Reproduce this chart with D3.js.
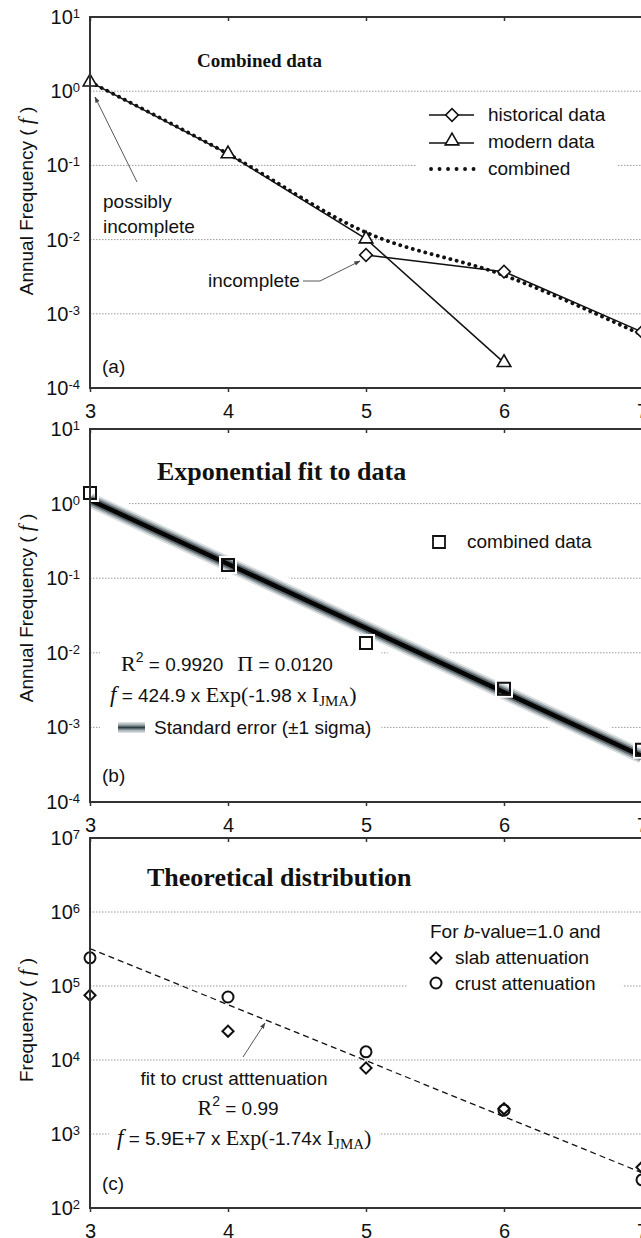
<!DOCTYPE html>
<html>
<head>
<meta charset="utf-8">
<script src="https://cdn.jsdelivr.net/npm/d3@7"></script>
<style>
  body { margin: 0; background: #fff; }
  svg { display: block; font-family: "Liberation Sans", Arial, sans-serif; }
</style>
</head>
<body>
<svg id="chart" width="641" height="1238"></svg>
<script>
// magnitude axis (I_JMA) shared by the three panels
const magnitudes = [3, 4, 5, 6, 7];
const xTickValues = [3, 4, 5, 6, 7];
const decadesAB = [-4, -3, -2, -1, 0, 1];
const decadesC = [2, 3, 4, 5, 6, 7];

// (a) combined data
const modernX = [3, 4, 5, 6];
const modernF = [1.33, 0.143, 0.0102, 0.00022];
const historicalX = [5, 6, 7];
const historicalF = [0.0062, 0.0037, 0.00057];
const combinedF = [1.33, 0.143, 0.0125, 0.0033, 0.00052];

// (b) exponential fit
const pointsB = [1.39, 0.150, 0.0135, 0.0033, 0.00050];
const fitBX = [3, 7];
const fitBF = [1.12, 0.00041];

// (c) theoretical distribution
const crustF = [2.4e5, 7.1e4, 1.29e4, 2.1e3, 240];
const slabF = [7.5e4, 2.45e4, 7.8e3, 2.2e3, 355];
const fitCX = [3, 7];
const fitCF = [3.2e5, 300];

const SERIF = "'Liberation Serif', 'Times New Roman', serif";
const svg = d3.select('#chart');
const defs = svg.append('defs');

defs.append('marker')
  .attr('id', 'arrow')
  .attr('viewBox', '0 0 10 10')
  .attr('refX', 9).attr('refY', 5)
  .attr('markerWidth', 7).attr('markerHeight', 7)
  .attr('orient', 'auto')
  .append('path')
  .attr('d', 'M0,1.5 L10,5 L0,8.5 Z')
  .attr('fill', '#444');

const bandGrad = defs.append('linearGradient')
  .attr('id', 'bandGrad')
  .attr('x1', 0).attr('y1', 0).attr('x2', 0).attr('y2', 1);
[['0%', '#e4e8ea'], ['25%', '#a4aeb3'], ['50%', '#2f3d44'], ['75%', '#a4aeb3'], ['100%', '#e4e8ea']]
  .forEach(([o, c]) => bandGrad.append('stop').attr('offset', o).attr('stop-color', c));

const x = d3.scaleLinear().domain([3, 7]).range([90, 642]);

function rich(parent, px, py, parts, anchor) {
  const t = parent.append('text')
    .attr('x', px).attr('y', py)
    .attr('text-anchor', anchor || 'start')
    .attr('font-size', 19)
    .attr('fill', '#111');
  parts.forEach(p => {
    const s = t.append('tspan').text(p.t);
    if (p.f) s.attr('font-family', p.f);
    if (p.s) s.attr('font-size', p.s);
    if (p.i) s.attr('font-style', 'italic');
    if (p.w) s.attr('font-weight', p.w);
    if (p.dy) s.attr('dy', p.dy);
    if (p.dx) s.attr('dx', p.dx);
  });
  return t;
}

function backdrop(layer, node, padX, padY) {
  const b = node.getBBox();
  layer.append('rect')
    .attr('x', b.x - padX).attr('y', b.y - padY)
    .attr('width', b.width + 2 * padX).attr('height', b.height + 2 * padY)
    .attr('fill', '#fff');
}

function panel(id, top, bottom, exps, axisLabel, labelCenter) {
  const y = d3.scaleLog()
    .domain([Math.pow(10, exps[0]), Math.pow(10, exps[exps.length - 1])])
    .range([bottom, top]);

  const grid = svg.append('g');
  const back = svg.append('g');
  const clipId = 'clip-' + id;
  defs.append('clipPath').attr('id', clipId)
    .append('rect').attr('x', 90).attr('y', top).attr('width', 560).attr('height', bottom - top);
  const lines = svg.append('g').attr('clip-path', `url(#${clipId})`);
  const marks = svg.append('g');
  const frame = svg.append('g');
  const text = svg.append('g');

  grid.selectAll('line')
    .data(exps.slice(1, -1))
    .enter().append('line')
    .attr('x1', 90).attr('x2', 641)
    .attr('y1', d => y(Math.pow(10, d)))
    .attr('y2', d => y(Math.pow(10, d)))
    .attr('stroke', '#9a9a9a')
    .attr('stroke-width', 1)
    .attr('stroke-dasharray', '1.5 1.5');

  frame.append('rect')
    .attr('x', 90).attr('y', top)
    .attr('width', x(7) - 90).attr('height', bottom - top)
    .attr('fill', 'none')
    .attr('stroke', '#333')
    .attr('stroke-width', 2);

  const bottomAxis = frame.append('g')
    .attr('transform', `translate(0,${bottom})`)
    .call(d3.axisBottom(x).tickValues(xTickValues).tickSizeInner(4).tickSizeOuter(0).tickPadding(12).tickFormat(d3.format('d')));
  bottomAxis.select('.domain').remove();
  bottomAxis.selectAll('line').attr('stroke', '#333').attr('stroke-width', 1.5);
  bottomAxis.selectAll('text')
    .attr('font-size', 20)
    .attr('font-family', '"Liberation Sans", Arial, sans-serif')
    .attr('fill', '#111');

  const topAxis = frame.append('g')
    .attr('transform', `translate(0,${top})`)
    .call(d3.axisTop(x).tickValues(xTickValues).tickSizeInner(-4).tickSizeOuter(0).tickFormat(''));
  topAxis.select('.domain').remove();
  topAxis.selectAll('line').attr('stroke', '#333').attr('stroke-width', 1.5);

  const leftAxis = frame.append('g')
    .attr('transform', 'translate(90,0)')
    .call(d3.axisLeft(y).tickValues(exps.map(e => Math.pow(10, e))).tickSize(0).tickPadding(10));
  leftAxis.select('.domain').remove();
  leftAxis.selectAll('text')
    .attr('font-size', 20)
    .attr('font-family', '"Liberation Sans", Arial, sans-serif')
    .attr('fill', '#111')
    .each(function (d) {
      const t = d3.select(this);
      t.text('');
      t.append('tspan').text('10');
      t.append('tspan').attr('dy', '-0.45em').attr('font-size', 13).text(Math.round(Math.log10(d)));
    });

  rich(text, 0, 0, axisLabel, 'middle')
    .attr('transform', `translate(33,${labelCenter}) rotate(-90)`);

  return { y, back, lines, marks, text };
}

const axisLabelAnnual = [
  { t: 'Annual Frequency ( ' },
  { t: 'f', f: SERIF, i: true, s: 21 },
  { t: ' )' }
];

// ---------- (a) ----------
const A = panel('a', 17, 388, decadesAB, axisLabelAnnual, 201);

const lineA = d3.line().x(d => x(d[0])).y(d => A.y(d[1]));
A.lines.append('path')
  .attr('d', d3.line().x(d => x(d[0])).y(d => A.y(d[1])).curve(d3.curveMonotoneX)(d3.zip(magnitudes, combinedF)))
  .attr('fill', 'none').attr('stroke', '#111')
  .attr('stroke-width', 3.8).attr('stroke-linecap', 'round')
  .attr('stroke-dasharray', '0.1 6.4');
A.lines.append('path')
  .attr('d', lineA(d3.zip(modernX, modernF)))
  .attr('fill', 'none').attr('stroke', '#111').attr('stroke-width', 1.5);
A.lines.append('path')
  .attr('d', lineA(d3.zip(historicalX, historicalF)))
  .attr('fill', 'none').attr('stroke', '#111').attr('stroke-width', 1.5);

const triangle = d3.symbol().type(d3.symbolTriangle).size(80);
const diamondA = d3.symbol().type(d3.symbolSquare).size(80);

A.marks.selectAll('.tri')
  .data(d3.zip(modernX, modernF))
  .enter().append('path')
  .attr('d', triangle)
  .attr('transform', d => `translate(${x(d[0])},${A.y(d[1])})`)
  .attr('fill', '#fff').attr('stroke', '#111').attr('stroke-width', 1.6);
A.marks.selectAll('.dia')
  .data(d3.zip(historicalX, historicalF))
  .enter().append('path')
  .attr('d', diamondA)
  .attr('transform', d => `translate(${x(d[0])},${A.y(d[1])}) rotate(45)`)
  .attr('fill', '#fff').attr('stroke', '#111').attr('stroke-width', 1.6);

rich(A.text, 197, 67, [{ t: 'Combined data', f: SERIF, w: 'bold', s: 19 }]);
rich(A.text, 103, 208, [{ t: 'possibly' }]);
rich(A.text, 103, 233, [{ t: 'incomplete' }]);
rich(A.text, 208, 287, [{ t: 'incomplete' }]);
rich(A.text, 102, 373, [{ t: '(a)' }]);

A.text.append('line')
  .attr('x1', 137).attr('y1', 182).attr('x2', 95).attr('y2', 97)
  .attr('stroke', '#444').attr('stroke-width', 0.9).attr('marker-end', 'url(#arrow)');
A.text.append('path')
  .attr('d', 'M303,281 L320,281 L360,261')
  .attr('fill', 'none').attr('stroke', '#444').attr('stroke-width', 0.9).attr('marker-end', 'url(#arrow)');

// legend (a)
const legA = A.text.append('g');
legA.append('line').attr('x1', 429).attr('x2', 474).attr('y1', 115).attr('y2', 115).attr('stroke', '#111').attr('stroke-width', 1.5);
legA.append('path').attr('d', diamondA).attr('transform', 'translate(452,115) rotate(45)')
  .attr('fill', '#fff').attr('stroke', '#111').attr('stroke-width', 1.6);
legA.append('line').attr('x1', 429).attr('x2', 474).attr('y1', 143).attr('y2', 143).attr('stroke', '#111').attr('stroke-width', 1.5);
legA.append('path').attr('d', triangle).attr('transform', 'translate(452,141)')
  .attr('fill', '#fff').attr('stroke', '#111').attr('stroke-width', 1.6);
legA.append('line').attr('x1', 431).attr('x2', 474).attr('y1', 169).attr('y2', 169)
  .attr('stroke', '#111').attr('stroke-width', 3.8).attr('stroke-linecap', 'round').attr('stroke-dasharray', '0.1 8.4');
rich(legA, 488, 121, [{ t: 'historical data' }]);
rich(legA, 488, 148, [{ t: 'modern data' }]);
rich(legA, 488, 175, [{ t: 'combined' }]);
backdrop(A.back, legA.node(), 12, 4);

// ---------- (b) ----------
const B = panel('b', 429, 802, decadesAB, axisLabelAnnual, 608);
const fitLineB = d3.line().x(d => x(d[0])).y(d => B.y(d[1]))(d3.zip(fitBX, fitBF));
[[26, '#fff'], [15, '#d9dee0'], [11.5, '#a2abaf'], [8, '#5d686d'], [4.5, '#050505']]
  .forEach(([w, c]) => B.lines.append('path')
    .attr('d', fitLineB).attr('fill', 'none').attr('stroke', c).attr('stroke-width', w));

const squareB = d3.symbol().type(d3.symbolSquare);
B.marks.selectAll('.sqw')
  .data(d3.zip(magnitudes, pointsB))
  .enter().append('path')
  .attr('d', squareB.size(256)())
  .attr('transform', d => `translate(${x(d[0])},${B.y(d[1])})`)
  .attr('fill', 'none').attr('stroke', '#fff').attr('stroke-width', 2);
B.marks.selectAll('.sq')
  .data(d3.zip(magnitudes, pointsB))
  .enter().append('path')
  .attr('d', squareB.size(144)())
  .attr('transform', d => `translate(${x(d[0])},${B.y(d[1])})`)
  .attr('fill', 'none').attr('stroke', '#111').attr('stroke-width', 2);

rich(B.text, 157, 480, [{ t: 'Exponential fit to data', f: SERIF, w: 'bold', s: 26 }]);
rich(B.text, 102, 782, [{ t: '(b)' }]);

const legB = B.text.append('g');
legB.append('path').attr('d', squareB.size(144)()).attr('transform', 'translate(439,542)')
  .attr('fill', 'none').attr('stroke', '#111').attr('stroke-width', 1.8);
rich(legB, 467, 548, [{ t: 'combined data' }]);

const blockB = B.text.append('g');
rich(blockB, 121, 671, [
  { t: 'R', f: SERIF, s: 22 },
  { t: '2', s: 14, dy: -9 },
  { t: ' = 0.9920', dy: 9 },
  { t: 'Π', f: SERIF, s: 22, dx: 14 },
  { t: ' = 0.0120' }
]);
rich(blockB, 110, 702, [
  { t: 'f', f: SERIF, i: true, s: 23 },
  { t: ' = 424.9 x ' },
  { t: 'Exp(', f: SERIF, s: 22 },
  { t: '-1.98 x ' },
  { t: 'I', f: SERIF, s: 22 },
  { t: 'JMA', f: SERIF, s: 15, dy: 4 },
  { t: ')', f: SERIF, s: 22, dy: -4 }
]);
blockB.append('rect')
  .attr('x', 118).attr('y', 722).attr('width', 27).attr('height', 11)
  .attr('fill', 'url(#bandGrad)');
rich(blockB, 154, 734, [{ t: 'Standard error (±1 sigma)' }]);
backdrop(B.back, blockB.node(), 10, 1);

// ---------- (c) ----------
const C = panel('c', 838, 1208, decadesC, [
  { t: 'Frequency ( ' },
  { t: 'f', f: SERIF, i: true, s: 21 },
  { t: ' )' }
], 1020);

C.lines.append('path')
  .attr('d', d3.line().x(d => x(d[0])).y(d => C.y(d[1]))(d3.zip(fitCX, fitCF)))
  .attr('fill', 'none').attr('stroke', '#111').attr('stroke-width', 1.3)
  .attr('stroke-dasharray', '6 4');

const diamondC = d3.symbol().type(d3.symbolSquare).size(62);
C.marks.selectAll('.slab')
  .data(d3.zip(magnitudes, slabF))
  .enter().append('path')
  .attr('d', diamondC)
  .attr('transform', d => `translate(${x(d[0])},${C.y(d[1])}) rotate(45)`)
  .attr('fill', 'none').attr('stroke', '#111').attr('stroke-width', 2);
C.marks.selectAll('.crust')
  .data(d3.zip(magnitudes, crustF))
  .enter().append('circle')
  .attr('cx', d => x(d[0])).attr('cy', d => C.y(d[1])).attr('r', 5.5)
  .attr('fill', 'none').attr('stroke', '#111').attr('stroke-width', 2);

rich(C.text, 147, 886, [{ t: 'Theoretical distribution', f: SERIF, w: 'bold', s: 26 }]);
rich(C.text, 102, 1190, [{ t: '(c)' }]);

const legC = C.text.append('g');
rich(legC, 430, 938, [{ t: 'For ' }, { t: 'b', i: true }, { t: '-value=1.0 and' }]);
legC.append('path').attr('d', diamondC).attr('transform', 'translate(436,958) rotate(45)')
  .attr('fill', 'none').attr('stroke', '#111').attr('stroke-width', 2);
legC.append('circle').attr('cx', 436).attr('cy', 983).attr('r', 5.5)
  .attr('fill', 'none').attr('stroke', '#111').attr('stroke-width', 2);
rich(legC, 455, 964, [{ t: 'slab attenuation' }]);
rich(legC, 455, 990, [{ t: 'crust attenuation' }]);
backdrop(C.back, legC.node(), 22, 2);

const blockC = C.text.append('g');
rich(blockC, 234, 1085, [{ t: 'fit to crust atttenuation' }], 'middle');
rich(blockC, 238, 1115, [
  { t: 'R', f: SERIF, s: 22 },
  { t: '2', s: 14, dy: -9 },
  { t: ' = 0.99', dy: 9 }
], 'middle');
rich(blockC, 117, 1145, [
  { t: 'f', f: SERIF, i: true, s: 23 },
  { t: ' = 5.9E+7 x ' },
  { t: 'Exp(', f: SERIF, s: 22 },
  { t: '-1.74x ' },
  { t: 'I', f: SERIF, s: 22 },
  { t: 'JMA', f: SERIF, s: 15, dy: 4 },
  { t: ')', f: SERIF, s: 22, dy: -4 }
]);
backdrop(C.back, blockC.node(), 8, 4);

C.text.append('line')
  .attr('x1', 243).attr('y1', 1057).attr('x2', 265).attr('y2', 1023)
  .attr('stroke', '#444').attr('stroke-width', 0.9).attr('marker-end', 'url(#arrow)');
</script>
</body>
</html>
